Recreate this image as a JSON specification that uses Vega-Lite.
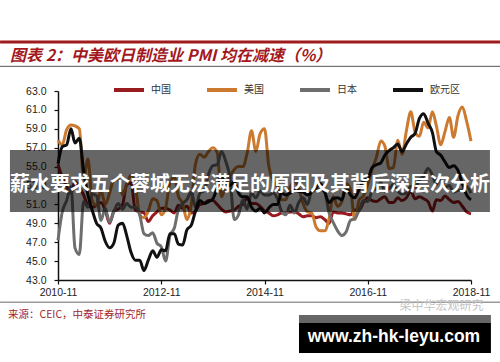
{
  "$schema": "https://vega.github.io/schema/vega-lite/v6.json",
  "autosize": {"type": "none"},
  "padding": {"left": 58, "top": 91, "right": 29, "bottom": 82},
  "width": 413,
  "height": 189,
  "background": "white",
  "title": {
    "text": "图表 2：中美欧日制造业 PMI 均在减速（%）",
    "anchor": "start",
    "frame": "group",
    "dx": -48,
    "dy": 46,
    "offset": 22,
    "font": "Noto Sans CJK SC",
    "fontSize": 16,
    "fontWeight": "bold",
    "fontStyle": "italic",
    "color": "#A3181D"
  },
  "resolve": {"axis": {"x": "independent", "y": "independent"}},
  "config": {
    "view": {"stroke": null},
    "axis": {
      "grid": false,
      "title": null,
      "labelOverlap": false,
      "labelFlush": false,
      "labelFont": "Liberation Sans",
      "labelFontSize": 10.5,
      "labelColor": "#222",
      "domainColor": "#111",
      "domainWidth": 1.5,
      "tickColor": "#111",
      "tickSize": 4,
      "tickWidth": 1.2
    },
    "axisX": {"labelPadding": 3},
    "axisY": {"labelPadding": 8}
  },
  "datasets": {
    "pmi": [
      {"d": "2010-11-01", "中国": 55.2, "美国": 57.8, "日本": 47.2, "欧元区": 55.3},
      {"d": "2010-12-01", "中国": 53.9, "美国": 57.3, "日本": 50.2, "欧元区": 57.1},
      {"d": "2011-01-01", "中国": 52.9, "美国": 58.9, "日本": 51.4, "欧元区": 57.3},
      {"d": "2011-02-01", "中国": 52.2, "美国": 59.4, "日本": 52.9, "欧元区": 59.0},
      {"d": "2011-03-01", "中国": 53.4, "美国": 59.3, "日本": 46.4, "欧元区": 57.5},
      {"d": "2011-04-01", "中国": 52.9, "美国": 59.0, "日本": 45.7, "欧元区": 58.0},
      {"d": "2011-05-01", "中国": 52.0, "美国": 53.8, "日本": 51.3, "欧元区": 54.6},
      {"d": "2011-06-01", "中国": 50.9, "美国": 55.8, "日本": 50.7, "欧元区": 52.0},
      {"d": "2011-07-01", "中国": 50.7, "美国": 51.4, "日本": 52.1, "欧元区": 50.4},
      {"d": "2011-08-01", "中国": 50.9, "美国": 50.9, "日本": 51.9, "欧元区": 49.0},
      {"d": "2011-09-01", "中国": 51.2, "美国": 52.5, "日本": 49.3, "欧元区": 48.5},
      {"d": "2011-10-01", "中国": 50.4, "美国": 51.0, "日本": 50.6, "欧元区": 47.1},
      {"d": "2011-11-01", "中国": 49.0, "美国": 52.2, "日本": 49.1, "欧元区": 46.4},
      {"d": "2011-12-01", "中国": 50.3, "美国": 53.6, "日本": 50.2, "欧元区": 46.9},
      {"d": "2012-01-01", "中国": 50.5, "美国": 53.7, "日本": 51.1, "欧元区": 48.8},
      {"d": "2012-02-01", "中国": 51.0, "美国": 52.0, "日本": 50.5, "欧元区": 49.0},
      {"d": "2012-03-01", "中国": 53.1, "美国": 53.1, "日本": 51.1, "欧元区": 47.7},
      {"d": "2012-04-01", "中国": 53.3, "美国": 54.1, "日本": 50.7, "欧元区": 45.9},
      {"d": "2012-05-01", "中国": 50.4, "美国": 53.0, "日本": 50.7, "欧元区": 45.1},
      {"d": "2012-06-01", "中国": 50.2, "美国": 49.9, "日本": 49.9, "欧元区": 45.1},
      {"d": "2012-07-01", "中国": 50.1, "美国": 49.6, "日本": 47.9, "欧元区": 44.0},
      {"d": "2012-08-01", "中国": 49.2, "美国": 50.3, "日本": 47.7, "欧元区": 45.1},
      {"d": "2012-09-01", "中国": 49.8, "美国": 51.6, "日本": 48.0, "欧元区": 46.1},
      {"d": "2012-10-01", "中国": 50.2, "美国": 51.4, "日本": 46.9, "欧元区": 45.4},
      {"d": "2012-11-01", "中国": 50.6, "美国": 49.9, "日本": 46.5, "欧元区": 46.2},
      {"d": "2012-12-01", "中国": 50.6, "美国": 50.6, "日本": 45.0, "欧元区": 46.1},
      {"d": "2013-01-01", "中国": 50.4, "美国": 53.3, "日本": 47.7, "欧元区": 47.9},
      {"d": "2013-02-01", "中国": 50.1, "美国": 53.9, "日本": 48.5, "欧元区": 47.9},
      {"d": "2013-03-01", "中国": 50.9, "美国": 51.9, "日本": 50.4, "欧元区": 46.8},
      {"d": "2013-04-01", "中国": 50.6, "美国": 51.1, "日本": 51.1, "欧元区": 46.7},
      {"d": "2013-05-01", "中国": 50.8, "美国": 49.4, "日本": 51.5, "欧元区": 48.3},
      {"d": "2013-06-01", "中国": 50.1, "美国": 51.0, "日本": 52.3, "欧元区": 48.8},
      {"d": "2013-07-01", "中国": 50.3, "美国": 55.3, "日本": 50.7, "欧元区": 50.3},
      {"d": "2013-08-01", "中国": 51.0, "美国": 56.3, "日本": 52.2, "欧元区": 51.4},
      {"d": "2013-09-01", "中国": 51.1, "美国": 56.0, "日本": 52.5, "欧元区": 51.1},
      {"d": "2013-10-01", "中国": 51.4, "美国": 56.6, "日本": 54.2, "欧元区": 51.3},
      {"d": "2013-11-01", "中国": 51.4, "美国": 57.0, "日本": 55.1, "欧元区": 51.6},
      {"d": "2013-12-01", "中国": 51.0, "美国": 56.5, "日本": 55.2, "欧元区": 52.7},
      {"d": "2014-01-01", "中国": 50.5, "美国": 51.8, "日本": 56.6, "欧元区": 54.0},
      {"d": "2014-02-01", "中国": 50.2, "美国": 53.1, "日本": 55.5, "欧元区": 53.2},
      {"d": "2014-03-01", "中国": 50.3, "美国": 53.9, "日本": 53.9, "欧元区": 53.0},
      {"d": "2014-04-01", "中国": 50.4, "美国": 54.7, "日本": 49.4, "欧元区": 53.4},
      {"d": "2014-05-01", "中国": 50.8, "美国": 55.0, "日本": 49.9, "欧元区": 52.2},
      {"d": "2014-06-01", "中国": 51.0, "美国": 55.0, "日本": 51.5, "欧元区": 51.8},
      {"d": "2014-07-01", "中国": 51.7, "美国": 56.4, "日本": 50.5, "欧元区": 51.8},
      {"d": "2014-08-01", "中国": 51.1, "美国": 58.8, "日本": 52.2, "欧元区": 50.7},
      {"d": "2014-09-01", "中国": 51.1, "美国": 56.6, "日本": 51.7, "欧元区": 50.3},
      {"d": "2014-10-01", "中国": 50.8, "美国": 58.5, "日本": 52.4, "欧元区": 50.6},
      {"d": "2014-11-01", "中国": 50.3, "美国": 59.0, "日本": 52.0, "欧元区": 50.1},
      {"d": "2014-12-01", "中国": 50.1, "美国": 55.1, "日本": 52.0, "欧元区": 50.6},
      {"d": "2015-01-01", "中国": 49.8, "美国": 53.5, "日本": 52.2, "欧元区": 51.0},
      {"d": "2015-02-01", "中国": 49.9, "美国": 52.9, "日本": 51.6, "欧元区": 51.0},
      {"d": "2015-03-01", "中国": 50.1, "美国": 51.5, "日本": 50.3, "欧元区": 52.2},
      {"d": "2015-04-01", "中国": 50.1, "美国": 51.5, "日本": 49.9, "欧元区": 52.0},
      {"d": "2015-05-01", "中国": 50.2, "美国": 52.8, "日本": 50.9, "欧元区": 52.2},
      {"d": "2015-06-01", "中国": 50.2, "美国": 53.5, "日本": 50.1, "欧元区": 52.5},
      {"d": "2015-07-01", "中国": 50.0, "美国": 52.7, "日本": 51.2, "欧元区": 52.4},
      {"d": "2015-08-01", "中国": 49.7, "美国": 51.1, "日本": 51.7, "欧元区": 52.3},
      {"d": "2015-09-01", "中国": 49.8, "美国": 50.2, "日本": 51.0, "欧元区": 52.0},
      {"d": "2015-10-01", "中国": 49.8, "美国": 50.1, "日本": 52.4, "欧元区": 52.3},
      {"d": "2015-11-01", "中国": 49.6, "美国": 48.6, "日本": 52.6, "欧元区": 52.8},
      {"d": "2015-12-01", "中国": 49.7, "美国": 48.2, "日本": 52.6, "欧元区": 53.2},
      {"d": "2016-01-01", "中国": 49.4, "美国": 48.2, "日本": 52.3, "欧元区": 52.3},
      {"d": "2016-02-01", "中国": 49.0, "美国": 49.5, "日本": 50.1, "欧元区": 51.2},
      {"d": "2016-03-01", "中国": 50.2, "美国": 51.8, "日本": 49.1, "欧元区": 51.6},
      {"d": "2016-04-01", "中国": 50.1, "美国": 50.8, "日本": 48.2, "欧元区": 51.7},
      {"d": "2016-05-01", "中国": 50.1, "美国": 51.3, "日本": 47.7, "欧元区": 51.5},
      {"d": "2016-06-01", "中国": 50.0, "美国": 53.2, "日本": 48.1, "欧元区": 52.8},
      {"d": "2016-07-01", "中国": 49.9, "美国": 52.6, "日本": 49.3, "欧元区": 52.0},
      {"d": "2016-08-01", "中国": 50.4, "美国": 49.4, "日本": 49.5, "欧元区": 51.7},
      {"d": "2016-09-01", "中国": 50.4, "美国": 51.5, "日本": 50.4, "欧元区": 52.6},
      {"d": "2016-10-01", "中国": 51.2, "美国": 51.9, "日本": 51.4, "欧元区": 53.5},
      {"d": "2016-11-01", "中国": 51.7, "美国": 53.2, "日本": 51.3, "欧元区": 53.7},
      {"d": "2016-12-01", "中国": 51.4, "美国": 54.7, "日本": 52.4, "欧元区": 54.9},
      {"d": "2017-01-01", "中国": 51.3, "美国": 56.0, "日本": 52.7, "欧元区": 55.2},
      {"d": "2017-02-01", "中国": 51.6, "美国": 57.7, "日本": 53.3, "欧元区": 55.4},
      {"d": "2017-03-01", "中国": 51.8, "美国": 57.2, "日本": 52.4, "欧元区": 56.2},
      {"d": "2017-04-01", "中国": 51.2, "美国": 54.8, "日本": 52.7, "欧元区": 56.7},
      {"d": "2017-05-01", "中国": 51.2, "美国": 54.9, "日本": 53.1, "欧元区": 57.0},
      {"d": "2017-06-01", "中国": 51.7, "美国": 57.8, "日本": 52.4, "欧元区": 57.4},
      {"d": "2017-07-01", "中国": 51.4, "美国": 56.3, "日本": 52.1, "欧元区": 56.6},
      {"d": "2017-08-01", "中国": 51.7, "美国": 58.8, "日本": 52.2, "欧元区": 57.4},
      {"d": "2017-09-01", "中国": 52.4, "美国": 60.8, "日本": 52.9, "欧元区": 58.1},
      {"d": "2017-10-01", "中国": 51.6, "美国": 58.7, "日本": 52.8, "欧元区": 58.5},
      {"d": "2017-11-01", "中国": 51.8, "美国": 58.2, "日本": 53.6, "欧元区": 60.1},
      {"d": "2017-12-01", "中国": 51.6, "美国": 59.7, "日本": 54.0, "欧元区": 60.6},
      {"d": "2018-01-01", "中国": 51.3, "美国": 59.1, "日本": 54.8, "欧元区": 59.6},
      {"d": "2018-02-01", "中国": 50.3, "美国": 60.8, "日本": 54.1, "欧元区": 58.6},
      {"d": "2018-03-01", "中国": 51.5, "美国": 59.3, "日本": 53.1, "欧元区": 56.6},
      {"d": "2018-04-01", "中国": 51.4, "美国": 57.3, "日本": 53.8, "欧元区": 56.2},
      {"d": "2018-05-01", "中国": 51.9, "美国": 58.7, "日本": 52.8, "欧元区": 55.5},
      {"d": "2018-06-01", "中国": 51.5, "美国": 60.2, "日本": 53.0, "欧元区": 54.9},
      {"d": "2018-07-01", "中国": 51.2, "美国": 58.1, "日本": 52.3, "欧元区": 55.1},
      {"d": "2018-08-01", "中国": 51.3, "美国": 60.4, "日本": 52.5, "欧元区": 54.6},
      {"d": "2018-09-01", "中国": 50.8, "美国": 61.3, "日本": 52.5, "欧元区": 53.2},
      {"d": "2018-10-01", "中国": 50.2, "美国": 59.8, "日本": 52.9, "欧元区": 52.0},
      {"d": "2018-11-01", "中国": 50.0, "美国": 57.7, "日本": 52.2, "欧元区": 51.5}
    ]
  },
  "layer": [
    {
      "data": {"name": "pmi"},
      "transform": [{"fold": ["中国", "美国", "日本", "欧元区"], "as": ["s", "v"]}],
      "mark": {"type": "line", "strokeWidth": 3, "interpolate": "monotone"},
      "encoding": {
        "x": {
          "field": "d",
          "type": "temporal",
          "scale": {
            "type": "utc",
            "domain": [
              {"year": 2010, "month": 11, "date": 1, "utc": true},
              {"year": 2018, "month": 11, "date": 1, "utc": true}
            ]
          },
          "axis": {
            "values": [
              {"year": 2010, "month": 11, "date": 1, "utc": true},
              {"year": 2012, "month": 11, "date": 1, "utc": true},
              {"year": 2014, "month": 11, "date": 1, "utc": true},
              {"year": 2016, "month": 11, "date": 1, "utc": true},
              {"year": 2018, "month": 11, "date": 1, "utc": true}
            ],
            "format": "%Y-%m",
            "labelOverlap": false
          }
        },
        "y": {
          "field": "v",
          "type": "quantitative",
          "scale": {"domain": [43, 63], "nice": false, "zero": false},
          "axis": {
            "values": [43, 45, 47, 49, 51, 53, 55, 57, 59, 61, 63],
            "format": ".1f",
            "labelOverlap": false
          }
        },
        "color": {
          "field": "s",
          "type": "nominal",
          "scale": {
            "domain": ["中国", "美国", "日本", "欧元区"],
            "range": ["#981B1F", "#CB7A30", "#6E6E6E", "#111111"]
          },
          "legend": {
            "title": null,
            "orient": "none",
            "legendX": 54,
            "legendY": -18,
            "direction": "horizontal",
            "symbolType": "stroke",
            "symbolSize": 900,
            "symbolStrokeWidth": 4,
            "labelFont": "Noto Sans CJK SC",
            "labelFontSize": 10,
            "labelColor": "#333",
            "labelOffset": 5,
            "columnPadding": 28
          }
        }
      }
    },
    {
      "data": {"values": [{"k": "banner"}]},
      "mark": {"type": "rect", "color": "#000", "opacity": 0.6},
      "encoding": {
        "x": {"datum": {"year": 2009, "month": 11, "date": 26, "utc": true}, "type": "temporal", "axis": null},
        "x2": {"datum": {"year": 2019, "month": 3, "date": 15, "utc": true}},
        "y": {"datum": 56.76, "type": "quantitative", "axis": null},
        "y2": {"datum": 50.2}
      }
    },
    {
      "data": {"values": [{"label": "薪水要求五个蓉城无法满足的原因及其背后深层次分析"}]},
      "mark": {"type": "text", "color": "#fff", "font": "Noto Sans CJK SC", "fontSize": 20, "fontWeight": "bold", "align": "center", "baseline": "middle"},
      "encoding": {
        "x": {"datum": {"year": 2014, "month": 7, "date": 21, "utc": true}, "type": "temporal", "axis": null},
        "y": {"datum": 53.1, "type": "quantitative", "axis": null},
        "text": {"field": "label"}
      }
    },
    {
      "data": {"values": [{"k": "top"}]},
      "mark": {"type": "rule", "color": "#A01B1B", "strokeWidth": 3},
      "encoding": {
        "x": {"datum": {"year": 2009, "month": 9, "date": 17, "utc": true}, "type": "temporal", "axis": null},
        "x2": {"datum": {"year": 2019, "month": 5, "date": 25, "utc": true}},
        "y": {"datum": 68.19, "type": "quantitative", "axis": null}
      }
    },
    {
      "data": {"values": [{"k": "under"}]},
      "mark": {"type": "rule", "color": "#555", "strokeWidth": 1},
      "encoding": {
        "x": {"datum": {"year": 2009, "month": 9, "date": 17, "utc": true}, "type": "temporal", "axis": null},
        "x2": {"datum": {"year": 2019, "month": 5, "date": 25, "utc": true}},
        "y": {"datum": 65.61, "type": "quantitative", "axis": null}
      }
    },
    {
      "data": {"values": [{"k": "foot"}]},
      "mark": {"type": "rule", "color": "#9A9A9A", "strokeWidth": 1.5},
      "encoding": {
        "x": {"datum": {"year": 2009, "month": 9, "date": 17, "utc": true}, "type": "temporal", "axis": null},
        "x2": {"datum": {"year": 2019, "month": 5, "date": 25, "utc": true}},
        "y": {"datum": 40.64, "type": "quantitative", "axis": null}
      }
    },
    {
      "data": {"values": [{"label": "梁中华宏观研究"}]},
      "mark": {"type": "text", "color": "#C4C4C4", "font": "Noto Sans CJK SC", "fontSize": 12, "align": "center", "baseline": "middle"},
      "encoding": {
        "x": {"datum": {"year": 2018, "month": 4, "date": 6, "utc": true}, "type": "temporal", "axis": null},
        "y": {"datum": 40.3, "type": "quantitative", "axis": null},
        "text": {"field": "label"}
      }
    },
    {
      "data": {"values": [{"label": "来源：CEIC，中泰证券研究所"}]},
      "mark": {"type": "text", "color": "#A3262A", "font": "Noto Sans CJK SC", "fontSize": 10.5, "align": "left", "baseline": "middle"},
      "encoding": {
        "x": {"datum": {"year": 2009, "month": 11, "date": 12, "utc": true}, "type": "temporal", "axis": null},
        "y": {"datum": 39.3, "type": "quantitative", "axis": null},
        "text": {"field": "label"}
      }
    },
    {
      "data": {"values": [{"k": "boxtop"}]},
      "mark": {"type": "rect", "color": "#666"},
      "encoding": {
        "x": {"datum": {"year": 2015, "month": 7, "date": 3, "utc": true}, "type": "temporal", "axis": null},
        "x2": {"datum": {"year": 2019, "month": 3, "date": 22, "utc": true}},
        "y": {"datum": 39.3, "type": "quantitative", "axis": null},
        "y2": {"datum": 38.45}
      }
    },
    {
      "data": {"values": [{"k": "box"}]},
      "mark": {"type": "rect", "color": "#000"},
      "encoding": {
        "x": {"datum": {"year": 2015, "month": 7, "date": 3, "utc": true}, "type": "temporal", "axis": null},
        "x2": {"datum": {"year": 2019, "month": 3, "date": 22, "utc": true}},
        "y": {"datum": 38.45, "type": "quantitative", "axis": null},
        "y2": {"datum": 35.28}
      }
    },
    {
      "data": {"values": [{"label": "www.zh-hk-leyu.com"}]},
      "mark": {"type": "text", "color": "#fff", "font": "Liberation Sans", "fontSize": 17.5, "fontWeight": "bold", "align": "center", "baseline": "middle"},
      "encoding": {
        "x": {"datum": {"year": 2017, "month": 5, "date": 5, "utc": true}, "type": "temporal", "axis": null},
        "y": {"datum": 36.97, "type": "quantitative", "axis": null},
        "text": {"field": "label"}
      }
    }
  ]
}
